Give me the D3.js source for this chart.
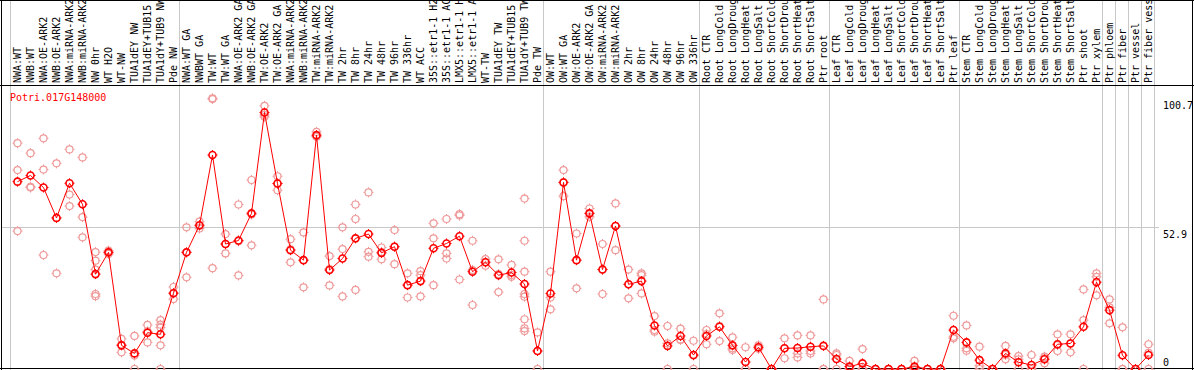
<!DOCTYPE html>
<html>
<head>
<meta charset="utf-8">
<script src="https://cdn.jsdelivr.net/npm/d3@7"></script>
<style>
  body { margin: 0; background: #fff; }
  svg { display: block; font-family: "DejaVu Sans Mono", monospace; }
</style>
</head>
<body>
<div id="chart"></div>
<script>
const geneName = "Potri.017G148000";

const sampleLabels = [
  "NWA:WT", "NWB:WT", "NWA:OE-ARK2", "NWB:OE-ARK2", "NWA:miRNA-ARK2", "NWB:miRNA-ARK2",
  "NW 0hr", "WT H2O", "WT-NW", "TUA1dEY NW", "TUA1dEY+TUB15 NW", "TUA1dY+TUB9 NW", "Pde NW",
  "NWA:WT GA", "NWBWT GA", "TW:WT", "TW:WT GA", "NWA:OE-ARK2 GA", "NWB:OE-ARK2 GA",
  "TW:OE-ARK2", "TW:OE-ARK2 GA", "NWA:miRNA-ARK2 GA", "NWB:miRNA-ARK2 GA", "TW:miRNA-ARK2",
  "TW:miRNA-ARK2 GA", "TW 2hr", "TW 8hr", "TW 24hr", "TW 48hr", "TW 96hr", "TW 336hr", "WT ACC",
  "35S::etr1-1 H2O", "35S::etr1-1 ACC", "LMX5::etr1-1 H2O", "LMX5::etr1-1 ACC", "WT-TW",
  "TUA1dEY TW", "TUA1dEY+TUB15 TW", "TUA1dY+TUB9 TW", "Pde TW",
  "OW:WT", "OW:WT GA", "OW:OE-ARK2", "OW:OE-ARK2 GA", "OW:miRNA-ARK2", "OW:miRNA-ARK2 GA",
  "OW 2hr", "OW 8hr", "OW 24hr", "OW 48hr", "OW 96hr", "OW 336hr",
  "Root CTR", "Root LongCold", "Root LongDrought", "Root LongHeat", "Root LongSalt",
  "Root ShortCold", "Root ShortDrought", "Root ShortHeat", "Root ShortSalt", "Ptr root",
  "Leaf CTR", "Leaf LongCold", "Leaf LongDrought", "Leaf LongHeat", "Leaf LongSalt",
  "Leaf ShortCold", "Leaf ShortDrought", "Leaf ShortHeat", "Leaf ShortSalt", "Ptr leaf",
  "Stem CTR", "Stem LongCold", "Stem LongDrought", "Stem LongHeat", "Stem LongSalt",
  "Stem ShortCold", "Stem ShortDrought", "Stem ShortHeat", "Stem ShortSalt", "Ptr shoot",
  "Ptr xylem", "Ptr phloem", "Ptr fiber", "Ptr vessel", "Ptr fiber vessel"
];

const meanValues = [
  69.7, 72, 67.5, 56.2, 69.1, 61.3, 35.3, 43.4, 8.8, 5.8, 13.5, 12.9, 28.2,
  43.4, 53.5, 79.6, 46.5, 47.8, 57.9, 95.4, 69, 44.2, 40.5, 87, 36.8, 41.1, 48.6, 50.2,
  43.2, 45.5, 31.2, 32.7, 44.9, 46.7, 49.4, 36.2, 39.7, 34.9, 35.9, 31.6, 6.7,
  28.1, 69.4, 40.5, 57.9, 37, 53.2, 31.5, 32.7, 16.2, 8.6, 12.3, 5.2,
  12.3, 15.7, 8.8, 2.6, 8.1, 0, 7.7, 7.8, 8.3, 8.6,
  3.7, 0.9, 2.1, 0, 0, 0, 0.9, 0, 0, 14.5,
  9.9, 3.3, 0, 5.8, 2.5, 1.5, 3.6, 9.2, 9.5, 15.7, 32.3,
  21.9, 5.1, 0, 5.2
];

const replicateValues = [
  [84, 74, 51.3], [80.3, 67.8, 67.5], [85.8, 74.2, 42.4], [76.5, 56.2, 35.6],
  [81.7, 64.9, 60.6], [78.7, 56.5, 49], [43.5, 40.3, 37, 27.9, 27.1], [44, 43.4, 42.8],
  [11.2, 9, 6.2], [12.3, 5, 0], [16.4, 14, 9.9], [18.2, 16.5, 15.4, 8.8, 0], [30.5, 28.2, 26],
  [52.7, 43.4, 34.1], [54.8, 53.2, 52.3], [100.7, 100.4, 37.5], [50.2, 46.5, 43],
  [61.2, 47.5, 34.8], [70.3, 57.5, 46], [97.9, 94.5, 93.8], [71.7, 69, 66.5],
  [48.3, 44.5, 39.7], [50.8, 40.5, 30.4], [88.2, 86.6, 86.4], [42, 37.2, 31.1],
  [52.7, 44.6, 27], [61.2, 55.8, 29.4], [65.7, 43.6, 41.8], [45.2, 43.5, 40.8],
  [51.7, 45.5, 39], [35.6, 31.2, 26.6], [36.4, 34.9, 27], [54.2, 48.6, 31.2],
  [55.8, 43, 41.1], [57.6, 57.1, 33.3], [47.7, 36.8, 23.8], [40.9, 39.7, 38.4],
  [40.8, 35.3, 28.6], [38.7, 35, 34.3], [63.4, 47.7, 36.2, 27.9, 26.9, 18.5, 15.1, 14.1],
  [13.6, 6.7, 0],
  [36.2, 26.6, 22.2], [74, 69.5, 64.3], [50.4, 40.5, 30], [59.7, 57.9, 56.6],
  [46.5, 37, 27.9], [61.6, 53.2, 44.2], [37, 31.5, 26.3], [35.6, 34.9, 28.1],
  [19.7, 14.5, 13.9], [16, 9.5, 0], [15, 11, 10.8], [10.5, 5, 0],
  [14.5, 13, 9.2], [20.7, 16, 10.4], [11.8, 7.7, 7.1], [8.1, 0, 0], [8.8, 8, 7.5],
  [0, 0, 0], [11.4, 7.7, 4], [12.5, 5.8, 4.3], [12.5, 6.7, 5.8], [25.9, 0, 0],
  [5.8, 5.2, 0], [3, 0, 0], [7.4, 0, 0], [0, 0, 0], [0, 0, 0],
  [0, 0, 0], [3, 0, 0], [0, 0, 0], [0, 0, 0], [19.8, 12, 11.4],
  [16.2, 7.7, 6.8], [8.3, 1.2, 0], [0, 0, 0], [8.6, 5.2, 3.6], [4.8, 3.6, 0],
  [5.2, 0, 0], [4.6, 4, 2.1], [12.9, 8.9, 6.7], [12.9, 9.5, 6.2], [29.6, 18.2, 0],
  [35.6, 34.3, 27.4],
  [25.9, 22.9, 17], [15.5, 0, 0], [0, 0, 0], [9.2, 6, 0]
];

// column index where each tissue group starts (plus the end)
const groupBreaks = [0, 13, 41, 53, 63, 73, 84, 85, 86, 87, 88];
const yTicks = [100.7, 52.9, 0];

(function () {
  const W = 1194;
  const H = 370;
  const labelBottom = 85;
  const plotLeft = 11;
  const plotRight = 1155;
  const lineRed = "#ff0000";
  const repColour = "#ef9a9a";
  const gridGrey = "#c8c8c8";

  const svg = d3
    .select("#chart")
    .append("svg")
    .attr("width", W)
    .attr("height", H);

  const x = d3
    .scaleBand()
    .domain(d3.range(sampleLabels.length))
    .range([plotLeft, plotRight]);
  const cx = (i) => x(i) + x.bandwidth() / 2;

  const y = d3.scaleLinear().domain([0, 100.7]).range([369, 98.3]);

  // group separators
  svg
    .selectAll(".sep")
    .data(groupBreaks)
    .enter()
    .append("line")
    .attr("class", "sep")
    .attr("x1", (d) => Math.round(plotLeft + d * x.step()) - 0.5)
    .attr("x2", (d) => Math.round(plotLeft + d * x.step()) - 0.5)
    .attr("y1", 0)
    .attr("y2", H)
    .attr("stroke", gridGrey)
    .attr("stroke-width", 1);

  // horizontal grid at middle tick
  svg
    .append("line")
    .attr("x1", 1)
    .attr("x2", plotRight + 4)
    .attr("y1", Math.round(y(52.9)) + 0.5)
    .attr("y2", Math.round(y(52.9)) + 0.5)
    .attr("stroke", gridGrey);

  // frame
  const frame = [
    [1.5, 0, 1.5, H],
    [W - 1.5, 0, W - 1.5, H],
    [0, 0.5, W, 0.5],
    [0, labelBottom + 0.5, W, labelBottom + 0.5],
    [0, H - 1.5, W, H - 1.5],
  ];
  svg
    .selectAll(".frame")
    .data(frame)
    .enter()
    .append("line")
    .attr("x1", (d) => d[0])
    .attr("y1", (d) => d[1])
    .attr("x2", (d) => d[2])
    .attr("y2", (d) => d[3])
    .attr("stroke", "#000")
    .attr("stroke-width", 1);

  // sample labels, rotated
  svg
    .selectAll(".sample-label")
    .data(sampleLabels)
    .enter()
    .append("text")
    .attr("class", "sample-label")
    .attr("transform", (d, i) => `translate(${cx(i)},${labelBottom - 2}) rotate(-90)`)
    .attr("dy", "0.35em")
    .attr("font-size", "10px")
    .attr("fill", "#000")
    .text((d) => d);

  // gene name
  svg
    .append("text")
    .attr("x", 10)
    .attr("y", 101)
    .attr("font-size", "10px")
    .attr("fill", lineRed)
    .text(geneName);

  // right hand value labels
  svg
    .selectAll(".ytick")
    .data(yTicks)
    .enter()
    .append("text")
    .attr("class", "ytick")
    .attr("x", 1163)
    .attr("y", (d) => Math.min(y(d) + 11, 366))
    .attr("font-size", "10px")
    .attr("fill", "#000")
    .text((d) => d);

  function drawMarker(g, colour, width) {
    g.append("circle")
      .attr("r", 3.5)
      .attr("fill", "none")
      .attr("stroke", colour)
      .attr("stroke-width", width);
    g.append("path")
      .attr("d", "M0,-5V-3.5M0,3.5V5M-5,0H-3.5M3.5,0H5")
      .attr("stroke", colour)
      .attr("stroke-width", 1);
  }

  // replicates
  const reps = [];
  replicateValues.forEach((vals, i) => vals.forEach((v) => reps.push({ i, v })));
  svg
    .selectAll(".rep")
    .data(reps)
    .enter()
    .append("g")
    .attr("class", "rep")
    .attr("transform", (d) => `translate(${cx(d.i)},${y(d.v)})`)
    .each(function () {
      drawMarker(d3.select(this), repColour, 1.2);
    });

  // mean line
  svg
    .append("path")
    .datum(meanValues)
    .attr("fill", "none")
    .attr("stroke", lineRed)
    .attr("stroke-width", 1)
    .attr(
      "d",
      d3
        .line()
        .x((d, i) => cx(i))
        .y((d) => y(d))
    );

  // mean markers
  svg
    .selectAll(".mean")
    .data(meanValues)
    .enter()
    .append("g")
    .attr("class", "mean")
    .attr("transform", (d, i) => `translate(${cx(i)},${y(d)})`)
    .each(function () {
      drawMarker(d3.select(this), lineRed, 1.6);
    });
})();
</script>
</body>
</html>
